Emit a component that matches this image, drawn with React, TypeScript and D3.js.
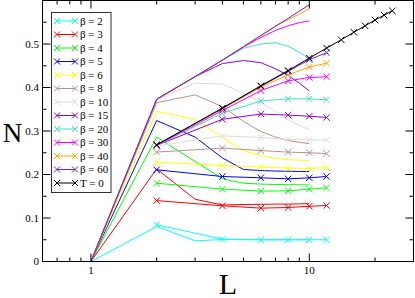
import React from "react";
import * as d3 from "d3";

// ---------- data ----------
const L_ED = [1, 2, 3, 4, 5, 6, 7, 8, 9, 10];
const L_MK = [2, 4, 6, 8, 10, 12];
const L_T0 = [2, 4, 6, 8, 10, 12, 14, 16, 18, 20, 22, 24];

const betaLabels = ["2", "3", "4", "5", "6", "8", "10", "15", "20", "30", "40", "60"];
const betaColors = [
  "#00ffff", "#ff0000", "#00ff00", "#0000ff", "#ffff00", "#bc8f8f",
  "#dcdcdc", "#9400d3", "#40e0d0", "#ff00ff", "#ffa500", "#7221bc",
];

// unmarked curves (L = 1..10)
const edB2 = [0, 0.0805, 0.0476, 0.0505, 0.05, 0.05, 0.0498, 0.05, 0.05, 0.05];
const edB3 = [0, 0.213, 0.143, 0.13, 0.131, 0.1315, 0.132, 0.132, 0.1325, 0.133];
const edB4 = [0, 0.286, 0.23, 0.19, 0.18, 0.178, 0.177, 0.1765, 0.1763, 0.176];
const edB5 = [0, 0.324, 0.286, 0.238, 0.2115, 0.209, 0.208, 0.2075, 0.207, 0.207];
const edB6 = [0, 0.345, 0.327, 0.285, 0.255, 0.243, 0.237, 0.234, 0.233, 0.232];
const edB8 = [0, 0.365, 0.383, 0.356, 0.322, 0.299, 0.286, 0.278, 0.274, 0.271];
const edB10 = [0, 0.372, 0.41, 0.408, 0.387, 0.3655, 0.345, 0.326, 0.313, 0.303];
const edB15 = [0, 0.373, 0.425, 0.455, 0.462, 0.457, 0.443, 0.428, 0.41, 0.392];
const edB20 = [0, 0.373, 0.425, 0.463, 0.49, 0.5, 0.503, 0.495, 0.481, 0.466];
const edB30 = [0, 0.373, 0.425, 0.463, 0.493, 0.515, 0.531, 0.542, 0.549, 0.553];
const edB40 = [0, 0.373, 0.425, 0.463, 0.494, 0.519, 0.54, 0.556, 0.569, 0.581];
const edB60 = [0, 0.373, 0.425, 0.463, 0.494, 0.5195, 0.541, 0.559, 0.5756, 0.59];

// marked series (L = 2,4,...,12)
const mkB2 = [0.0844, 0.0515, 0.05, 0.05, 0.05, 0.05];
const mkB3 = [0.14, 0.128, 0.1227, 0.1241, 0.127, 0.1287];
const mkB4 = [0.18, 0.1664, 0.1618, 0.1625, 0.1664, 0.1694];
const mkB5 = [0.2108, 0.1954, 0.1924, 0.19, 0.1924, 0.1954];
const mkB6 = [0.2285, 0.2207, 0.217, 0.2147, 0.2138, 0.216];
const mkB8 = [0.2515, 0.2607, 0.255, 0.2515, 0.25, 0.248];
const mkB10 = [0.265, 0.289, 0.285, 0.2805, 0.2798, 0.279];
const mkB15 = [0.267, 0.327, 0.339, 0.3365, 0.334, 0.331];
const mkB20 = [0.267, 0.341, 0.369, 0.374, 0.374, 0.3717];
const mkB30 = [0.267, 0.347, 0.393, 0.4154, 0.423, 0.4246];
const mkB40 = [0.268, 0.351, 0.401, 0.429, 0.447, 0.456];
const mkB60 = [0.268, 0.352, 0.403, 0.437, 0.464, 0.48];

// T = 0
const t0 = [0.268, 0.3526, 0.404, 0.439, 0.4676, 0.4906, 0.5097, 0.527, 0.5418, 0.555, 0.5663, 0.5763];

const edSets = [edB2, edB3, edB4, edB5, edB6, edB8, edB10, edB15, edB20, edB30, edB40, edB60];
const mkSets = [mkB2, mkB3, mkB4, mkB5, mkB6, mkB8, mkB10, mkB15, mkB20, mkB30, mkB40, mkB60];

const yMajor = [0, 0.1, 0.2, 0.3, 0.4, 0.5];
const yMinor = [0.05, 0.15, 0.25, 0.35, 0.45, 0.55];
const xMajor = [1, 10];
const xMinor = [0.6, 0.7, 0.8, 0.9, 2, 3, 4, 5, 6, 7, 8, 9, 20, 30];

// ---------- layout ----------
const W = 415, H = 298;
const PL = 42.5, PR = 413.5, PT = 0.5, PB = 261.5;
const FONT = "'Liberation Serif', 'DejaVu Serif', serif";

const x = d3.scaleLog().domain([0.6, 30]).range([PL, PR]);
const y = d3.scaleLinear().domain([0, 0.6]).range([PB, PT]);

const Cross = ({ cx, cy, color, s = 3.2 }: { cx: number; cy: number; color: string; s?: number }) => (
  <path d={`M${cx - s},${cy - s}L${cx + s},${cy + s}M${cx - s},${cy + s}L${cx + s},${cy - s}`} stroke={color} strokeWidth={1} fill="none" />
);

export default function App() {
  const line = d3.line<[number, number]>().x((d) => x(d[0])).y((d) => y(d[1]));
  const legendItems = [
    ...betaLabels.map((b, i) => ({ label: `β = ${b}`, color: betaColors[i] })),
    { label: "T = 0", color: "#000000" },
  ];
  return (
    <svg width={W} height={H} style={{ position: "absolute", left: 0, top: 0, background: "#fff" }}>
      <rect x={0} y={0} width={W} height={H} fill="#fff" />
      {/* unmarked curves */}
      {edSets.map((s, i) => (
        <path key={"ed" + i} d={line(s.map((v, j) => [L_ED[j], v]) as [number, number][]) || ""} stroke={betaColors[i]} strokeWidth={1} fill="none" />
      ))}
      {/* marked series */}
      {mkSets.map((s, i) => (
        <g key={"mk" + i}>
          <path d={line(s.map((v, j) => [L_MK[j], v]) as [number, number][]) || ""} stroke={betaColors[i]} strokeWidth={1} fill="none" />
          {s.map((v, j) => (
            <Cross key={j} cx={x(L_MK[j])} cy={y(v)} color={betaColors[i]} />
          ))}
        </g>
      ))}
      <g>
        <path d={line(t0.map((v, j) => [L_T0[j], v]) as [number, number][]) || ""} stroke="#000" strokeWidth={1} fill="none" />
        {t0.map((v, j) => (
          <Cross key={j} cx={x(L_T0[j])} cy={y(v)} color="#000" />
        ))}
      </g>

      {/* frame */}
      <rect x={PL} y={PT} width={PR - PL} height={PB - PT} fill="none" stroke="#000" strokeWidth={1} />
      {/* y ticks */}
      {yMajor.map((v) => (
        <g key={"ym" + v}>
          <line x1={PL} x2={PL + 8} y1={y(v)} y2={y(v)} stroke="#000" />
          <line x1={PR} x2={PR - 8} y1={y(v)} y2={y(v)} stroke="#000" />
          <text x={39} y={y(v)} dy="0.35em" textAnchor="end" fontFamily={FONT} fontSize={11}>{String(v)}</text>
        </g>
      ))}
      {yMinor.map((v) => (
        <g key={"yn" + v}>
          <line x1={PL} x2={PL + 4} y1={y(v)} y2={y(v)} stroke="#000" />
          <line x1={PR} x2={PR - 4} y1={y(v)} y2={y(v)} stroke="#000" />
        </g>
      ))}
      {/* x ticks */}
      {xMajor.map((v) => (
        <g key={"xm" + v}>
          <line x1={x(v)} x2={x(v)} y1={PB} y2={PB - 8} stroke="#000" />
          <line x1={x(v)} x2={x(v)} y1={PT} y2={PT + 8} stroke="#000" />
          <text x={x(v)} y={274} textAnchor="middle" fontFamily={FONT} fontSize={11}>{String(v)}</text>
        </g>
      ))}
      {xMinor.map((v) => (
        <g key={"xn" + v}>
          <line x1={x(v)} x2={x(v)} y1={PB} y2={PB - 4} stroke="#000" />
          <line x1={x(v)} x2={x(v)} y1={PT} y2={PT + 4} stroke="#000" />
        </g>
      ))}
      {/* axis titles */}
      <text x={12.5} y={141.5} textAnchor="middle" fontFamily={FONT} fontSize={27}>N</text>
      <text x={228} y={293.5} textAnchor="middle" fontFamily={FONT} fontSize={30}>L</text>

      {/* legend */}
      <rect x={51.5} y={12.5} width={59.5} height={180} fill="#fff" stroke="#333" strokeWidth={1} />
      {legendItems.map((it, i) => {
        const cy = 21 + i * 13.5;
        return (
          <g key={"lg" + i}>
            <line x1={57} x2={75} y1={cy} y2={cy} stroke={it.color} strokeWidth={1} />
            <Cross cx={57} cy={cy} color={it.color} s={3} />
            <Cross cx={75} cy={cy} color={it.color} s={3} />
            <text x={80} y={cy} dy="0.35em" fontFamily={FONT} fontSize={11}>{it.label}</text>
          </g>
        );
      })}
    </svg>
  );
}
